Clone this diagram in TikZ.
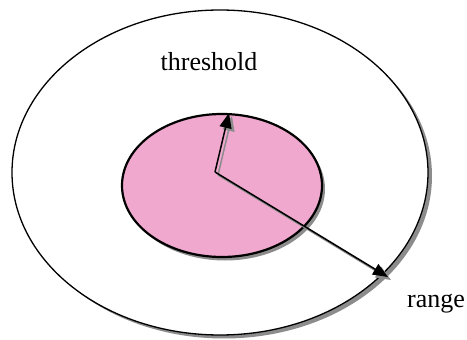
\documentclass[tikz,border=0pt]{standalone}
\usepackage{fontspec}
\setmainfont{Liberation Serif}
\usetikzlibrary{arrows.meta}
\definecolor{pinkfill}{HTML}{F0A8CF}
\definecolor{shadowgray}{HTML}{8C8C8C}
\tikzset{
  lbl/.style={font=\fontsize{26}{30}\selectfont, inner sep=0pt},
  radius arrow/.style={line width=1.5pt, -{Triangle[length=15pt,width=12pt]}},
  radius shadow/.style={line width=1.5pt, draw=shadowgray, -{Triangle[length=15pt,width=12pt]}, shadowgray},
}
\begin{document}
\begin{tikzpicture}[x=1pt,y=-1pt]
\useasboundingbox (0,0) rectangle (467,340);
% outer ellipse with shadow
\fill[shadowgray] (224,176) ellipse [x radius=208, y radius=162.5];
\draw[fill=white, line width=1.3pt] (220,172.5) ellipse [x radius=208, y radius=162.5];
% inner ellipse with shadow
\fill[shadowgray] (225,189) ellipse [x radius=100, y radius=71.5];
\draw[fill=pinkfill, line width=2.2pt] (222,185.5) ellipse [x radius=100, y radius=71.5];
% coordinates
\coordinate (c) at (215,172);
\coordinate (t) at (229,113);
\coordinate (r) at (388,277);
\coordinate (cs) at (218,175);
\coordinate (ts) at (232,116);
\coordinate (rs) at (391,280);
% arrow shadows
\draw[radius shadow] (cs) -- (ts);
\draw[radius shadow] (cs) -- (rs);
% arrows
\draw[radius arrow] (c) -- (t);
\draw[radius arrow] (c) -- (r);
% labels
\node[lbl] (thr) at (209,62) {threshold};
\node[lbl] (rng) at (436,304) {range};
\end{tikzpicture}
\end{document}
